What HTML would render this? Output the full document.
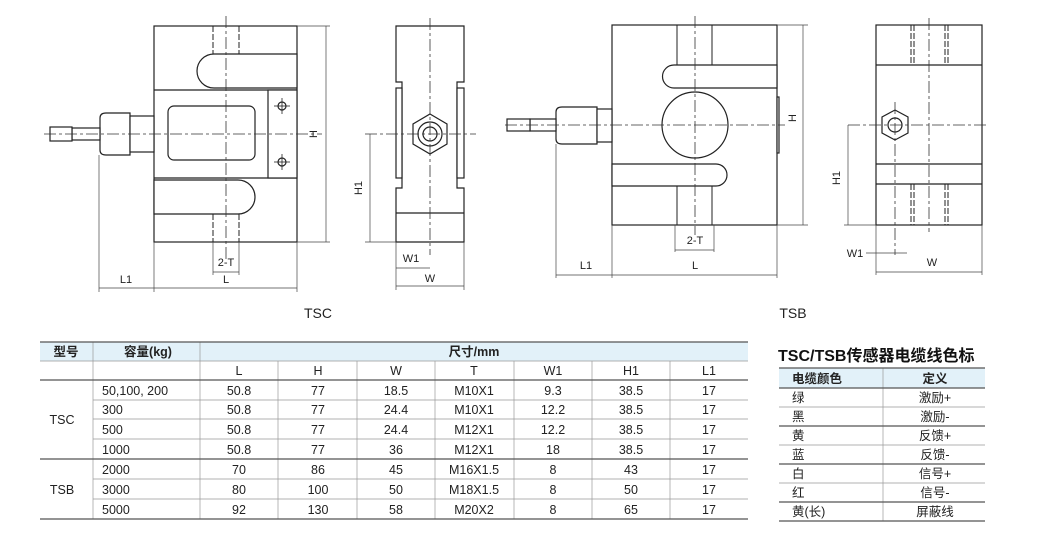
<!DOCTYPE html>
<html><head><meta charset="utf-8"><style>
html,body{margin:0;padding:0;background:#fff;}
svg{display:block;font-family:"Liberation Sans","Noto Sans CJK SC",sans-serif;}
</style></head><body>
<svg width="1060" height="542" viewBox="0 0 1060 542" xmlns="http://www.w3.org/2000/svg">
<g stroke="#222" stroke-width="1.2" fill="#fff">
<!-- TSC front -->
<rect x="154" y="26" width="143" height="216"/>
<path d="M297,54 L214,54 A17,17 0 0 0 214,88 L297,88 Z"/>
<path d="M154,180 L238,180 A17,17 0 0 1 238,214 L154,214 Z"/>
<line x1="154" y1="90" x2="297" y2="90"/><line x1="154" y1="178" x2="297" y2="178"/>
<rect x="168" y="106" width="87" height="54" rx="6"/>
<rect x="268" y="90" width="29" height="88"/>
<circle cx="282" cy="106" r="4"/><circle cx="282" cy="162" r="4"/>
<path d="M100,118 Q100,113 106,113 L130,113 L130,155 L106,155 Q100,155 100,150 Z"/>
<rect x="130" y="116" width="24" height="36"/>
<rect x="72" y="128" width="28" height="12"/>
<rect x="50" y="127" width="22" height="14"/>
<!-- TSC side -->
<path d="M396,26 L464,26 L464,82 L457,82 L457,188 L464,188 L464,242 L396,242 L396,188 L402,188 L402,82 L396,82 Z"/>
<rect x="396" y="88" width="6" height="90"/><rect x="457" y="88" width="7" height="90"/>
<line x1="396" y1="213" x2="464" y2="213"/>
<polygon points="430,114 447,124 447,144 430,154 413,144 413,124"/>
<circle cx="430" cy="134" r="12"/><circle cx="430" cy="134" r="7"/>
<!-- TSB front -->
<rect x="612" y="25" width="165" height="200"/>
<path d="M777,65 L674,65 A11.5,11.5 0 0 0 674,88 L777,88 Z"/>
<path d="M612,164 L716,164 A11,11 0 0 1 716,186 L612,186 Z"/>
<circle cx="695" cy="125" r="33"/>
<rect x="777" y="97" width="2" height="56"/>
<path d="M556,112 Q556,107 562,107 L597,107 L597,144 L562,144 Q556,144 556,139 Z"/>
<rect x="597" y="109" width="15" height="33"/>
<rect x="530" y="119" width="26" height="12"/>
<rect x="507" y="119" width="23" height="12"/>
<!-- TSB side -->
<rect x="876" y="25" width="106" height="200"/>
<line x1="876" y1="65" x2="982" y2="65"/><line x1="876" y1="164" x2="982" y2="164"/><line x1="876" y1="184" x2="982" y2="184"/>
<polygon points="895,110 908,117 908,133 895,140 882,133 882,117"/>
<circle cx="895" cy="125" r="7"/>
</g>
<g stroke="#222" stroke-width="0.8">
<line x1="274" y1="106" x2="290" y2="106"/><line x1="282" y1="98" x2="282" y2="114"/>
<line x1="274" y1="162" x2="290" y2="162"/><line x1="282" y1="154" x2="282" y2="170"/>
</g>
<g stroke="#222" stroke-width="1" fill="none">
<line x1="213" y1="26" x2="213" y2="54" stroke-dasharray="6,2"/><line x1="239" y1="26" x2="239" y2="54" stroke-dasharray="6,2"/>
<line x1="213" y1="214" x2="213" y2="242" stroke-dasharray="6,2"/><line x1="239" y1="214" x2="239" y2="242" stroke-dasharray="6,2"/>
<line x1="677" y1="25" x2="677" y2="65"/><line x1="712" y1="25" x2="712" y2="65"/>
<line x1="677" y1="186" x2="677" y2="225"/><line x1="712" y1="186" x2="712" y2="225"/>
<line x1="911" y1="25" x2="911" y2="65" stroke-dasharray="6,2"/><line x1="914" y1="25" x2="914" y2="65" stroke-dasharray="6,2"/>
<line x1="945" y1="25" x2="945" y2="65" stroke-dasharray="6,2"/><line x1="948" y1="25" x2="948" y2="65" stroke-dasharray="6,2"/>
<line x1="911" y1="184" x2="911" y2="225" stroke-dasharray="6,2"/><line x1="914" y1="184" x2="914" y2="225" stroke-dasharray="6,2"/>
<line x1="945" y1="184" x2="945" y2="225" stroke-dasharray="6,2"/><line x1="948" y1="184" x2="948" y2="225" stroke-dasharray="6,2"/>
</g>
<g stroke="#333" stroke-width="0.8" fill="none" stroke-dasharray="12,3,3,3">
<line x1="226" y1="16" x2="226" y2="262"/><line x1="44" y1="134" x2="322" y2="134"/>
<line x1="430" y1="18" x2="430" y2="255"/><line x1="365" y1="134" x2="476" y2="134"/>
<line x1="695" y1="16" x2="695" y2="235"/><line x1="505" y1="125" x2="785" y2="125"/>
<line x1="929" y1="18" x2="929" y2="232"/><line x1="895" y1="102" x2="895" y2="255"/><line x1="848" y1="125" x2="988" y2="125"/>
</g>
<g stroke="#444" stroke-width="0.7" fill="none">
<line x1="297" y1="26" x2="330" y2="26"/><line x1="297" y1="242" x2="330" y2="242"/><line x1="326" y1="26" x2="326" y2="242"/>
<line x1="99" y1="155" x2="99" y2="292"/><line x1="154" y1="242" x2="154" y2="292"/><line x1="297" y1="242" x2="297" y2="292"/>
<line x1="99" y1="288" x2="297" y2="288"/>
<line x1="213" y1="242" x2="213" y2="275"/><line x1="239" y1="242" x2="239" y2="275"/><line x1="213" y1="272" x2="239" y2="272"/>
<line x1="365" y1="242" x2="396" y2="242"/><line x1="370" y1="134" x2="370" y2="242"/>
<line x1="396" y1="242" x2="396" y2="290"/><line x1="464" y1="242" x2="464" y2="290"/>
<line x1="396" y1="268" x2="430" y2="268"/><line x1="396" y1="286" x2="464" y2="286"/>
<line x1="777" y1="25" x2="808" y2="25"/><line x1="777" y1="225" x2="808" y2="225"/><line x1="803" y1="25" x2="803" y2="225"/>
<line x1="556" y1="144" x2="556" y2="278"/><line x1="612" y1="225" x2="612" y2="278"/><line x1="777" y1="225" x2="777" y2="278"/>
<line x1="556" y1="275" x2="777" y2="275"/>
<line x1="675" y1="225" x2="675" y2="252"/><line x1="714" y1="225" x2="714" y2="252"/><line x1="675" y1="250" x2="714" y2="250"/>
<line x1="844" y1="225" x2="876" y2="225"/><line x1="848" y1="125" x2="848" y2="225"/>
<line x1="876" y1="225" x2="876" y2="275"/><line x1="982" y1="225" x2="982" y2="275"/>
<line x1="876" y1="272" x2="982" y2="272"/><line x1="866" y1="253" x2="907" y2="253"/>
</g>
<g font-size="11" fill="#222" text-anchor="middle">
<text x="126" y="283">L1</text><text x="226" y="283">L</text><text x="226" y="266">2-T</text>
<text x="411" y="262">W1</text><text x="430" y="282">W</text>
<text x="586" y="269">L1</text><text x="695" y="269">L</text><text x="695" y="244">2-T</text>
<text x="855" y="257">W1</text><text x="932" y="266">W</text>
<text transform="translate(317,134) rotate(-90)">H</text>
<text transform="translate(362,188) rotate(-90)">H1</text>
<text transform="translate(796,118) rotate(-90)">H</text>
<text transform="translate(840,178) rotate(-90)">H1</text>
</g>
<g font-size="14" fill="#222" text-anchor="middle"><text x="318" y="318">TSC</text><text x="793" y="318">TSB</text></g>

<rect x="40" y="342" width="708" height="19" fill="#e2f1f9"/>
<g stroke="#999" stroke-width="0.7">
<line x1="93" y1="342" x2="93" y2="519"/><line x1="200" y1="342" x2="200" y2="519"/>
<line x1="278" y1="361" x2="278" y2="519"/><line x1="357" y1="361" x2="357" y2="519"/><line x1="435" y1="361" x2="435" y2="519"/>
<line x1="514" y1="361" x2="514" y2="519"/><line x1="592" y1="361" x2="592" y2="519"/><line x1="670" y1="361" x2="670" y2="519"/>
<line x1="40" y1="361" x2="748" y2="361"/>
<line x1="93" y1="400" x2="748" y2="400"/><line x1="93" y1="419" x2="748" y2="419"/><line x1="93" y1="439" x2="748" y2="439"/>
<line x1="93" y1="479" x2="748" y2="479"/><line x1="93" y1="499" x2="748" y2="499"/>
</g>
<g stroke="#555" stroke-width="1.2">
<line x1="40" y1="342" x2="748" y2="342"/><line x1="40" y1="380" x2="748" y2="380"/>
<line x1="40" y1="459" x2="748" y2="459"/><line x1="40" y1="519" x2="748" y2="519"/>
</g>
<g font-size="12.5" fill="#222" text-anchor="middle">
<g font-weight="bold"><text x="66" y="356">型号</text><text x="148" y="356">容量(kg)</text><text x="474" y="356">尺寸/mm</text></g>
<text x="239" y="375">L</text><text x="318" y="375">H</text><text x="396" y="375">W</text><text x="474" y="375">T</text><text x="553" y="375">W1</text><text x="631" y="375">H1</text><text x="709" y="375">L1</text>
<text x="62" y="424">TSC</text><text x="62" y="494">TSB</text>
</g>
<g font-size="12.5" fill="#222">
<text x="102" y="395">50,100, 200</text><text x="102" y="414">300</text><text x="102" y="434">500</text><text x="102" y="454">1000</text>
<text x="102" y="474">2000</text><text x="102" y="494">3000</text><text x="102" y="514">5000</text>
</g>
<g font-size="12.5" fill="#222" text-anchor="middle">
<text x="239" y="395">50.8</text><text x="318" y="395">77</text><text x="396" y="395">18.5</text><text x="474" y="395">M10X1</text><text x="553" y="395">9.3</text><text x="631" y="395">38.5</text><text x="709" y="395">17</text>
<text x="239" y="414">50.8</text><text x="318" y="414">77</text><text x="396" y="414">24.4</text><text x="474" y="414">M10X1</text><text x="553" y="414">12.2</text><text x="631" y="414">38.5</text><text x="709" y="414">17</text>
<text x="239" y="434">50.8</text><text x="318" y="434">77</text><text x="396" y="434">24.4</text><text x="474" y="434">M12X1</text><text x="553" y="434">12.2</text><text x="631" y="434">38.5</text><text x="709" y="434">17</text>
<text x="239" y="454">50.8</text><text x="318" y="454">77</text><text x="396" y="454">36</text><text x="474" y="454">M12X1</text><text x="553" y="454">18</text><text x="631" y="454">38.5</text><text x="709" y="454">17</text>
<text x="239" y="474">70</text><text x="318" y="474">86</text><text x="396" y="474">45</text><text x="474" y="474">M16X1.5</text><text x="553" y="474">8</text><text x="631" y="474">43</text><text x="709" y="474">17</text>
<text x="239" y="494">80</text><text x="318" y="494">100</text><text x="396" y="494">50</text><text x="474" y="494">M18X1.5</text><text x="553" y="494">8</text><text x="631" y="494">50</text><text x="709" y="494">17</text>
<text x="239" y="514">92</text><text x="318" y="514">130</text><text x="396" y="514">58</text><text x="474" y="514">M20X2</text><text x="553" y="514">8</text><text x="631" y="514">65</text><text x="709" y="514">17</text>
</g>

<text x="778" y="361" font-size="16" font-weight="bold" fill="#111">TSC/TSB传感器电缆线色标</text>
<rect x="779" y="368" width="206" height="20" fill="#e2f1f9"/>
<g stroke="#999" stroke-width="0.7">
<line x1="883" y1="368" x2="883" y2="521"/>
<line x1="779" y1="407" x2="985" y2="407"/><line x1="779" y1="445" x2="985" y2="445"/><line x1="779" y1="483" x2="985" y2="483"/>
</g>
<g stroke="#555" stroke-width="1.2">
<line x1="779" y1="368" x2="985" y2="368"/><line x1="779" y1="388" x2="985" y2="388"/>
<line x1="779" y1="426" x2="985" y2="426"/><line x1="779" y1="464" x2="985" y2="464"/><line x1="779" y1="502" x2="985" y2="502"/><line x1="779" y1="521" x2="985" y2="521"/>
</g>
<g font-size="12.5" fill="#222">
<text x="792" y="383" font-weight="bold">电缆颜色</text><text x="935" y="383" font-weight="bold" text-anchor="middle">定义</text>
<text x="792" y="402">绿</text><text x="792" y="421">黑</text><text x="792" y="440">黄</text><text x="792" y="459">蓝</text>
<text x="792" y="478">白</text><text x="792" y="497">红</text><text x="792" y="516">黄(长)</text>
<g text-anchor="middle"><text x="935" y="402">激励+</text><text x="935" y="421">激励-</text><text x="935" y="440">反馈+</text><text x="935" y="459">反馈-</text>
<text x="935" y="478">信号+</text><text x="935" y="497">信号-</text><text x="935" y="516">屏蔽线</text></g>
</g>
</svg>
</body></html>
